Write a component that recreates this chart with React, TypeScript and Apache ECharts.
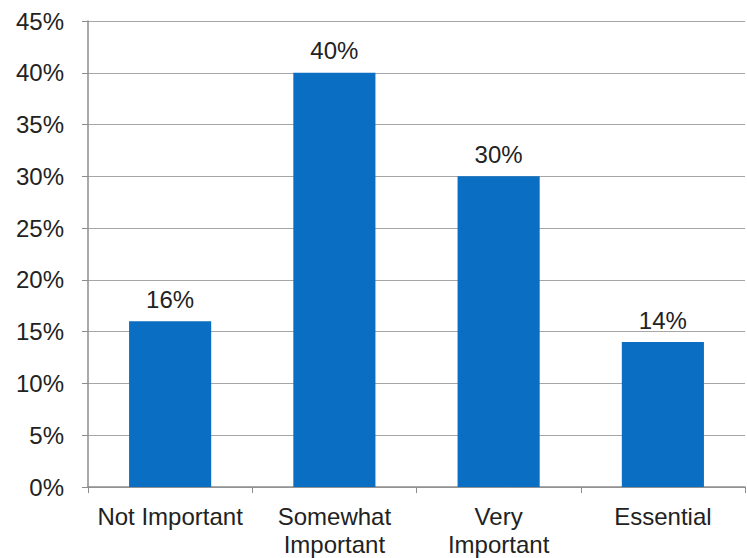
import React, { useEffect, useRef } from "react";
import * as echarts from "echarts";

const categories = ["Not Important", "Somewhat\nImportant", "Very\nImportant", "Essential"];
const values = [16, 40, 30, 14];
const yTicks = { min: 0, max: 45, interval: 5 };

export default function App() {
  const ref = useRef<HTMLDivElement>(null);
  useEffect(() => {
    if (!ref.current) return;
    const chart = echarts.init(ref.current, null, { renderer: "svg" });
    const font = "'Liberation Sans', Arial, sans-serif";
    chart.setOption({
      animation: false,
      backgroundColor: "#ffffff",
      grid: { left: 88, right: 2, top: 21, bottom: 71, containLabel: false },
      xAxis: {
        type: "category",
        data: categories,
        axisLine: { show: true, lineStyle: { color: "#8c8c8c", width: 1.5 } },
        axisTick: { show: true, length: 6, lineStyle: { color: "#8c8c8c" } },
        axisLabel: {
          color: "#222222",
          fontSize: 24,
          fontFamily: font,
          margin: 15,
          lineHeight: 28,
          interval: 0,
        },
      },
      yAxis: {
        type: "value",
        min: yTicks.min,
        max: yTicks.max,
        interval: yTicks.interval,
        axisLine: { show: true, lineStyle: { color: "#8c8c8c", width: 1.5 } },
        axisTick: { show: true, length: 6, lineStyle: { color: "#8c8c8c" } },
        splitLine: { show: true, lineStyle: { color: "#a6a6a6", width: 1.2 } },
        axisLabel: {
          color: "#222222",
          fontSize: 24,
          fontFamily: font,
          margin: 24,
          formatter: (v: number) => `${v}%`,
        },
      },
      series: [
        {
          type: "bar",
          data: values,
          barWidth: "50%",
          itemStyle: { color: "#0a6fc2" },
          label: {
            show: true,
            position: "top",
            distance: 10,
            color: "#222222",
            fontSize: 24,
            fontFamily: font,
            formatter: (p: any) => `${p.value}%`,
          },
        },
      ],
    });
    return () => chart.dispose();
  }, []);
  return (
    <div
      ref={ref}
      style={{ position: "fixed", left: 0, top: 0, width: 747, height: 558 }}
    />
  );
}
